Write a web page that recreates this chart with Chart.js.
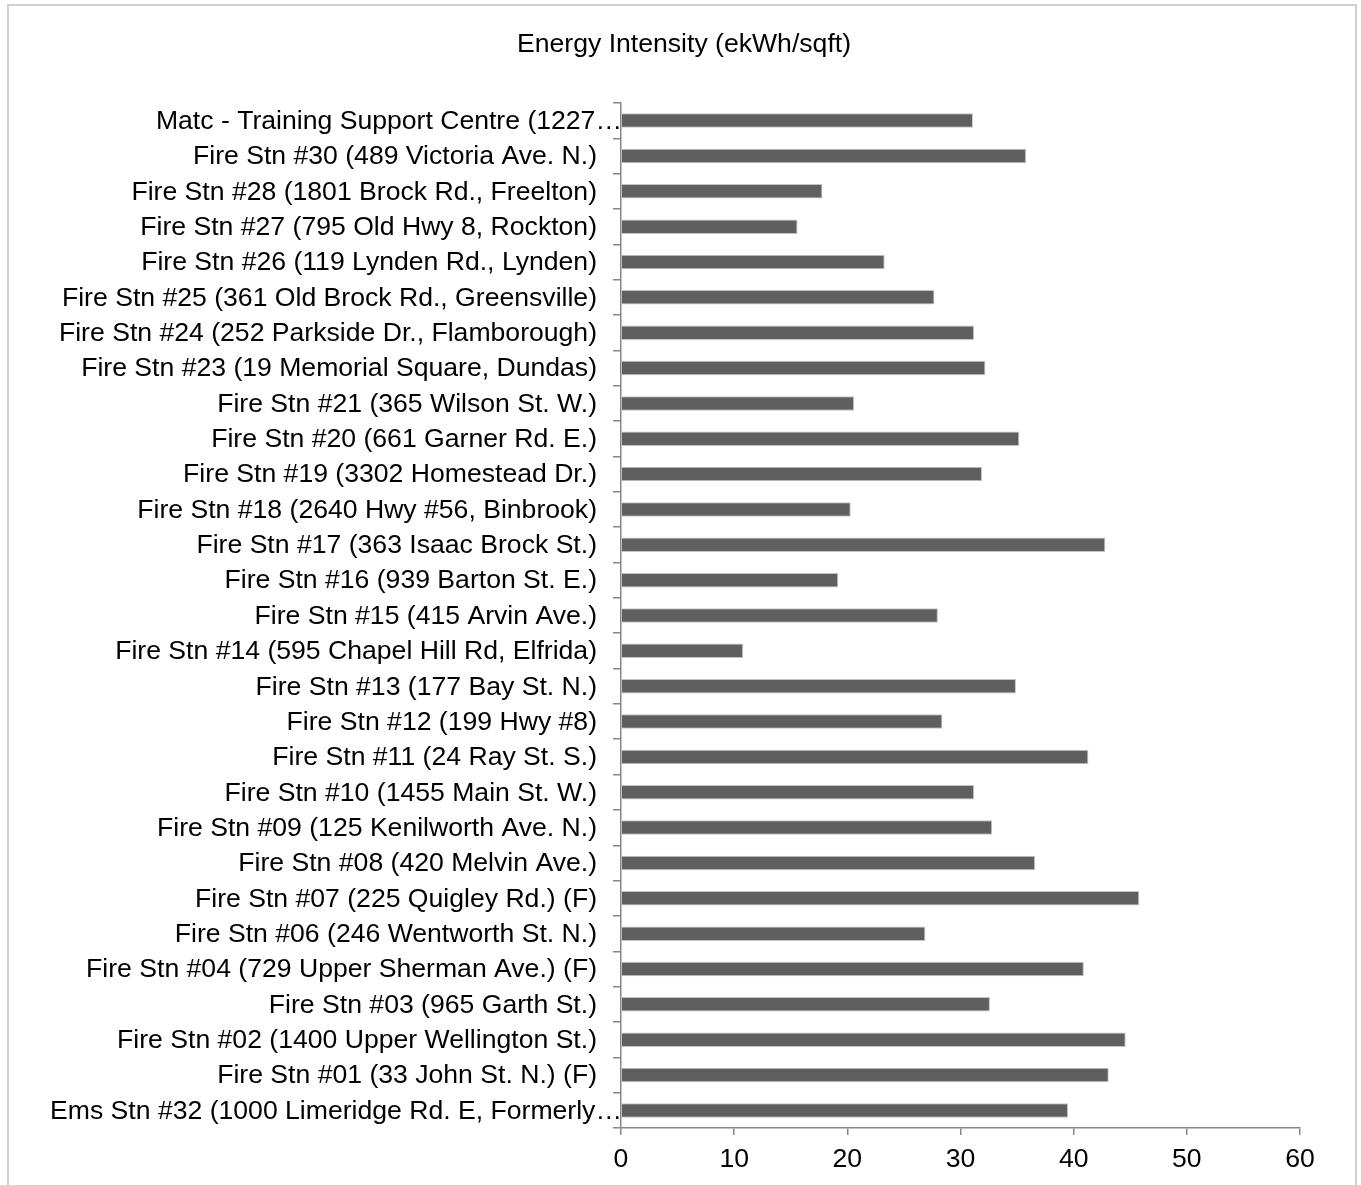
<!DOCTYPE html>
<html>
<head>
<meta charset="utf-8">
<title>Energy Intensity (ekWh/sqft)</title>
<script src="https://cdn.jsdelivr.net/npm/chart.js@4/dist/chart.umd.min.js"></script>
<style>
  html, body { margin: 0; padding: 0; background: #ffffff; }
  #wrap { position: relative; width: 1361px; height: 1185px; overflow: hidden; }
  #frame {
    position: absolute; left: 7px; top: 4px; width: 1346px; height: 1200px;
    border: 2px solid #d0d0d0; pointer-events: none;
  }
  canvas { position: absolute; left: 0; top: 0; }
</style>
</head>
<body>
<div id="wrap">
  <canvas id="chart" width="1361" height="1185"></canvas>
  <div id="frame"></div>
</div>
<script>
// Facility names (top to bottom, as listed on the axis)
const stations = [
  "Matc - Training Support Centre (1227\u2026",
  "Fire Stn #30 (489 Victoria Ave. N.)",
  "Fire Stn #28 (1801 Brock Rd., Freelton)",
  "Fire Stn #27 (795 Old Hwy 8, Rockton)",
  "Fire Stn #26 (119 Lynden Rd., Lynden)",
  "Fire Stn #25 (361 Old Brock Rd., Greensville)",
  "Fire Stn #24 (252 Parkside Dr., Flamborough)",
  "Fire Stn #23 (19 Memorial Square, Dundas)",
  "Fire Stn #21 (365 Wilson St. W.)",
  "Fire Stn #20 (661 Garner Rd. E.)",
  "Fire Stn #19 (3302 Homestead Dr.)",
  "Fire Stn #18 (2640 Hwy #56, Binbrook)",
  "Fire Stn #17 (363 Isaac Brock St.)",
  "Fire Stn #16 (939 Barton St. E.)",
  "Fire Stn #15 (415 Arvin Ave.)",
  "Fire Stn #14 (595 Chapel Hill Rd, Elfrida)",
  "Fire Stn #13 (177 Bay St. N.)",
  "Fire Stn #12 (199 Hwy #8)",
  "Fire Stn #11 (24 Ray St. S.)",
  "Fire Stn #10 (1455 Main St. W.)",
  "Fire Stn #09 (125 Kenilworth Ave. N.)",
  "Fire Stn #08 (420 Melvin Ave.)",
  "Fire Stn #07 (225 Quigley Rd.) (F)",
  "Fire Stn #06 (246 Wentworth St. N.)",
  "Fire Stn #04 (729 Upper Sherman Ave.) (F)",
  "Fire Stn #03 (965 Garth St.)",
  "Fire Stn #02 (1400 Upper Wellington St.)",
  "Fire Stn #01 (33 John St. N.) (F)",
  "Ems Stn #32 (1000 Limeridge Rd. E, Formerly\u2026"
];

// Energy intensity per facility, ekWh/sqft
const intensity = [
  31.1, 35.8, 17.8, 15.6, 23.3, 27.7, 31.2, 32.2, 20.6, 35.2,
  31.9, 20.3, 42.8, 19.2, 28.0, 10.8, 34.9, 28.4, 41.3, 31.2,
  32.8, 36.6, 45.8, 26.9, 40.9, 32.6, 44.6, 43.1, 39.5
];

// Value axis range and step
const axisMin = 0;
const axisMax = 60;
const axisStep = 10;

const chartTitle = "Energy Intensity (ekWh/sqft)";

const FONT = "'Liberation Sans', Arial, Helvetica, sans-serif";
const FONT_SIZE = 26.6;
const AXIS_GREY = "#878787";

// Category labels are drawn right-aligned beside the axis; labels cut short
// with an ellipsis run right up to the axis line.
const categoryLabels = {
  id: "categoryLabels",
  afterDraw(chart) {
    const ctx = chart.ctx;
    const yScale = chart.scales.y;
    const axisX = chart.chartArea.left;
    ctx.save();
    ctx.font = FONT_SIZE + "px " + FONT;
    ctx.fillStyle = "#000000";
    ctx.textAlign = "right";
    ctx.textBaseline = "middle";
    yScale.ticks.forEach((t, i) => {
      const label = chart.data.labels[t.value];
      const y = yScale.getPixelForTick(i) + 1;
      const x = label.endsWith("\u2026") ? axisX + 1 : axisX - 24;
      ctx.fillText(label, x, y);
    });
    ctx.restore();
  }
};

new Chart(document.getElementById("chart"), {
  type: "bar",
  data: {
    labels: stations,
    datasets: [{
      label: chartTitle,
      data: intensity,
      backgroundColor: "#5f5f5f",
      borderColor: "#c4c4c4",
      borderWidth: 1,
      borderSkipped: "start",
      categoryPercentage: 1.0,
      barPercentage: 0.41
    }]
  },
  options: {
    indexAxis: "y",
    responsive: false,
    animation: false,
    devicePixelRatio: 1,
    layout: { padding: { top: 0, left: 68, right: 61, bottom: 0 } },
    plugins: {
      legend: { display: false },
      tooltip: { enabled: false },
      title: {
        display: true,
        text: chartTitle,
        color: "#000000",
        font: { family: FONT, size: FONT_SIZE, weight: "normal" },
        padding: { top: 29, bottom: 42 }
      }
    },
    scales: {
      x: {
        type: "linear",
        min: axisMin,
        max: axisMax,
        ticks: {
          stepSize: axisStep,
          color: "#000000",
          font: { family: FONT, size: FONT_SIZE },
          padding: 9,
          maxRotation: 0
        },
        grid: {
          display: true,
          drawOnChartArea: false,
          drawTicks: true,
          tickLength: 7,
          color: AXIS_GREY,
          lineWidth: 1.5
        },
        border: { display: true, color: AXIS_GREY, width: 1.5 }
      },
      y: {
        type: "category",
        offset: true,
        ticks: { display: false },
        grid: {
          display: true,
          offset: true,
          drawOnChartArea: false,
          drawTicks: true,
          tickLength: 8,
          color: AXIS_GREY,
          lineWidth: 1.5
        },
        border: { display: true, color: AXIS_GREY, width: 1.5 },
        afterFit(scale) { scale.width = 621 - 68; }
      }
    }
  },
  plugins: [categoryLabels]
});
</script>
</body>
</html>
